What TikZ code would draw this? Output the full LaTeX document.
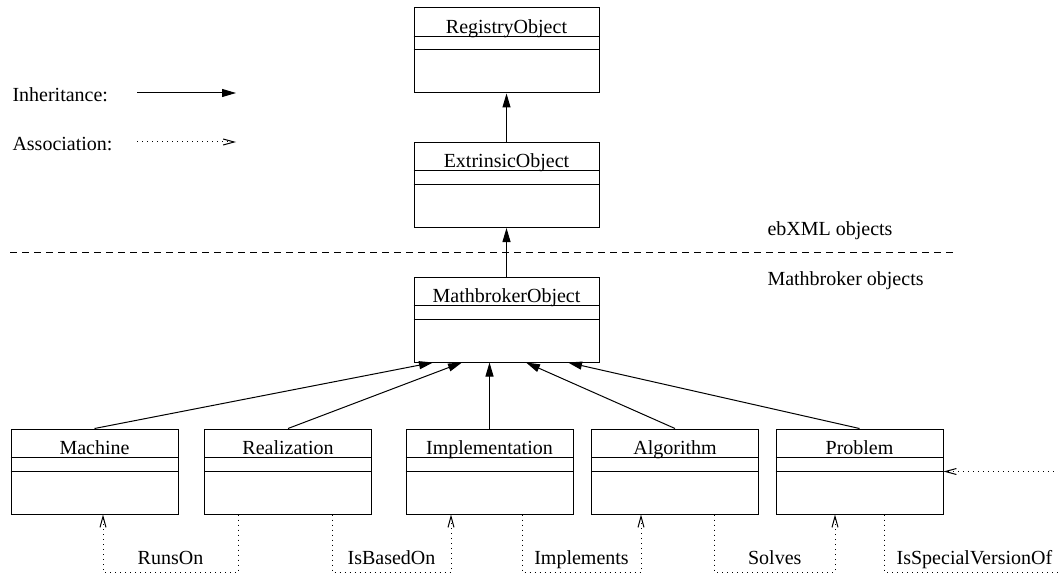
\documentclass[tikz,border=0pt]{standalone}
\usepackage{fontspec}
\setmainfont{Liberation Serif}
\usetikzlibrary{arrows, arrows.meta}
\usetikzlibrary{shapes}
\tikzset{
  classbox/.style={draw, rectangle, inner sep=0pt, minimum width=92.5pt, minimum height=42.5pt},
  subbox/.style={classbox, minimum width=83.5pt},
  inh/.style={-{Triangle[length=7pt,width=4pt]}},
  assoc/.style={dotted, -{Straight Barb[length=5.5pt,width=3pt]}},
  lbl/.style={above, text depth=0pt},
  plaintext/.style={anchor=base west, inner sep=0pt}
}
\newcommand{\umlclass}[4]{%
  \node[#3] (#1) at (#2) {};
  \node[anchor=base] (#1-name) at ([yshift=-13pt]#1.north) {#4};
  \draw ([yshift=-14.5pt]#1.north west) -- ([yshift=-14.5pt]#1.north east);
  \draw ([yshift=-21.25pt]#1.north west) -- ([yshift=-21.25pt]#1.north east);
}

\begin{document}
\begin{tikzpicture}[x=0.5pt, y=-0.5pt, line width=0.5pt]
  \useasboundingbox (0,0) rectangle (1058,572);
  \clip (0,0) rectangle (1058,572);

  % legend
  \node[plaintext] (inhtxt) at (12,102) {Inheritance:};
  \node[plaintext] (asstxt) at (12,151) {Association:};
  \coordinate (inh-a) at (137,93);
  \coordinate (inh-b) at (236,93);
  \coordinate (ass-a) at (137,142);
  \coordinate (ass-b) at (236,142);
  \draw[inh] (inh-a) -- (inh-b);
  \draw[assoc] (ass-a) -- (ass-b);

  % ebXML part
  \umlclass{reg}{506.5,50.5}{classbox}{RegistryObject}
  \umlclass{ext}{506.5,185}{classbox}{ExtrinsicObject}
  \draw[inh] (ext.north) -- (reg.south);

  \coordinate (sep-a) at (10,252);
  \coordinate (sep-b) at (953,252);
  \draw[dash pattern=on 3.5pt off 2.5pt] (sep-a) -- (sep-b);
  \node[plaintext] (ebxml) at (767,235) {ebXML objects};
  \node[plaintext] (mbtxt) at (767,285) {Mathbroker objects};

  % Mathbroker part
  \umlclass{mbo}{506.5,319.5}{classbox}{MathbrokerObject}
  \draw[inh] (mbo.north) -- (ext.south);

  \umlclass{mach}{94.5,471.5}{subbox}{Machine}
  \umlclass{rea}{288,471.5}{subbox}{Realization}
  \umlclass{impl}{489.5,471.5}{subbox}{Implementation}
  \umlclass{alg}{675,471.5}{subbox}{Algorithm}
  \umlclass{prob}{859.5,471.5}{subbox}{Problem}

  \draw[inh] (mach.north) -- ([xshift=-36.75pt]mbo.south);
  \draw[inh] (rea.north) -- ([xshift=-22.25pt]mbo.south);
  \draw[inh] (impl.north) -- ([xshift=-8.5pt]mbo.south);
  \draw[inh] (alg.north) -- ([xshift=9.75pt]mbo.south);
  \draw[inh] (prob.north) -- ([xshift=30.75pt]mbo.south);

  % associations
  \draw[assoc] ([xshift=-25pt]rea.south) -- ++(0,57.5) -| ([xshift=4.25pt]mach.south)
    node[lbl, pos=0.25] (runson) {RunsOn};
  \draw[assoc] ([xshift=22pt]rea.south) -- ++(0,57.5) -| ([xshift=-19.25pt]impl.south)
    node[lbl, pos=0.25] (isbased) {IsBasedOn};
  \draw[assoc] ([xshift=16.25pt]impl.south) -- ++(0,57.5) -| ([xshift=-17pt]alg.south)
    node[lbl, pos=0.25] (implements) {Implements};
  \draw[assoc] ([xshift=19.75pt]alg.south) -- ++(0,57.5) -| ([xshift=-12.25pt]prob.south)
    node[lbl, pos=0.25] (solves) {Solves};
  \coordinate (loop) at (1080,471.5);
  \draw[assoc] ([xshift=12.5pt]prob.south) -- ++(0,57.5) -| (loop)
    node[lbl, pos=0.23] (special) {IsSpecialVersionOf} -- (prob.east);
\end{tikzpicture}
\end{document}
